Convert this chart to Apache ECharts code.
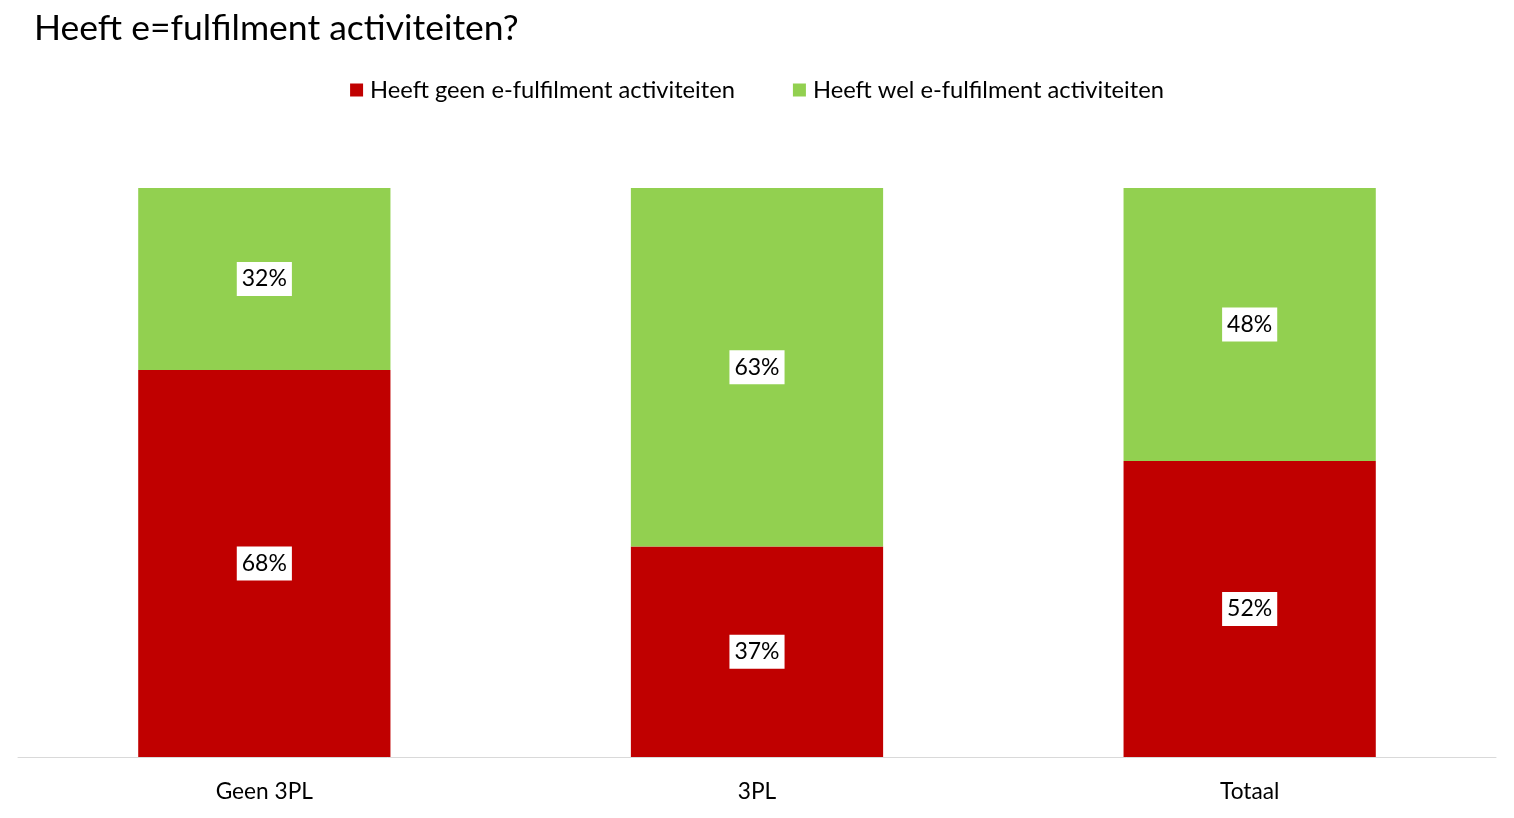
<!DOCTYPE html>
<html><head><meta charset="utf-8">
<script src="https://cdn.jsdelivr.net/npm/echarts@6/dist/echarts.min.js"></script>
<style>html,body{margin:0;padding:0;background:#fff}#c{width:1514px;height:818px}</style>
</head><body><div id="c"></div>
<script>
const categories = ['Geen 3PL', '3PL', 'Totaal'];
const seriesNames = ['Heeft geen e-fulfilment activiteiten', 'Heeft wel e-fulfilment activiteiten'];
const geenValues = [68, 37, 52];
const welValues = [32, 63, 48];
const colors = ['#C00000', '#92D050'];
const FONT = 'Lato';

const chart = echarts.init(document.getElementById('c'));
const label = {
  show: true, position: 'inside', formatter: '{c}%',
  color: '#000', fontFamily: FONT, fontSize: 23,
  backgroundColor: '#fff', padding: [6, 5, 5, 5]
};
chart.setOption({
  animation: false,
  title: { text: 'Heeft e=fulfilment activiteiten?', left: 29, top: 6,
    textStyle: { fontFamily: FONT, fontSize: 35.5, fontWeight: 'normal', color: '#000' } },
  legend: { top: 73, left: 'center', itemWidth: 13, itemHeight: 13, itemGap: 58,
    icon: 'rect', textStyle: { fontFamily: FONT, fontSize: 23.7, color: '#000', padding: [0, 0, 0, 2] } },
  grid: { left: 18, right: 18, top: 188, bottom: 61, containLabel: false },
  xAxis: { type: 'category', data: categories,
    axisLine: { lineStyle: { color: '#d9d9d9', width: 1 } },
    axisTick: { show: false },
    axisLabel: { fontFamily: FONT, fontSize: 22.7, color: '#000', margin: 23 } },
  yAxis: { type: 'value', min: 0, max: 100, show: false, splitLine: { show: false } },
  series: [
    { name: seriesNames[0], type: 'bar', stack: 't', data: geenValues, barWidth: '51.2%',
      itemStyle: { color: colors[0] }, label },
    { name: seriesNames[1], type: 'bar', stack: 't', data: welValues, barWidth: '51.2%',
      itemStyle: { color: colors[1] }, label }
  ]
});
</script></body></html>
